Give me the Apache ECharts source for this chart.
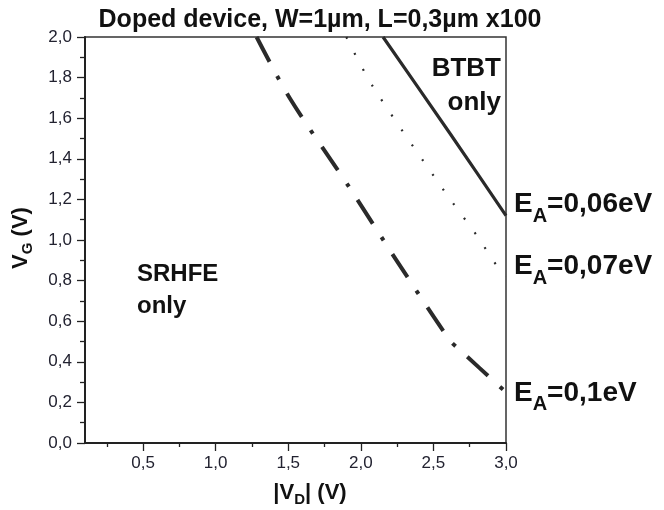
<!DOCTYPE html>
<html>
<head>
<meta charset="utf-8">
<script src="https://cdn.jsdelivr.net/npm/echarts@6/dist/echarts.min.js"></script>
<style>html,body{margin:0;padding:0;background:#fff}#c{width:664px;height:510px}</style>
</head>
<body>
<div id="c"></div>
<script>
const chartTitle = 'Doped device, W=1µm, L=0,3µm x100';
const xMajorTicks = [0.5, 1.0, 1.5, 2.0, 2.5, 3.0];
const xMinorTicks = [0.25, 0.75, 1.25, 1.75, 2.25, 2.75];
// E_A = 0,06 eV (solid)
const vd006 = [2.153, 2.612, 3.0];
const vg006 = [2.0, 1.527, 1.12];
// E_A = 0,07 eV (dotted)
const vd007 = [1.90, 2.084, 2.578, 2.796, 2.933, 3.0];
const vg007 = [2.0, 1.755, 1.238, 1.025, 0.877, 0.82];
// E_A = 0,1 eV (dash-dot)
const vd01 = [1.282, 1.511, 1.924, 2.24, 2.612, 2.68, 3.0];
const vg01 = [2.0, 1.698, 1.256, 0.906, 0.507, 0.46, 0.25];
const seriesNames = ['E_A=0,06eV', 'E_A=0,07eV', 'E_A=0,1eV'];
const labelSuffix = ['=0,06eV', '=0,07eV', '=0,1eV'];

const FONT = 'Liberation Sans, Arial, sans-serif';
const INK = '#222';
const comma = v => String(Number(v).toFixed(1)).replace('.', ',');
const zip = (a, b) => a.map((x, i) => [x, b[i]]);

const eaRich = {
  e: {fontSize: 28, fontWeight: 'bold', color: '#111', fontFamily: FONT, lineHeight: 32},
  s: {fontSize: 20, fontWeight: 'bold', color: '#111', fontFamily: FONT, padding: [23, 0, 0, 0]}
};
function endLbl(i, off) {
  return {show: true, formatter: '{e|E}{s|A}{e|' + labelSuffix[i] + '}', distance: 8, offset: off, rich: eaRich};
}

const chart = echarts.init(document.getElementById('c'));
chart.setOption({
  animation: false,
  backgroundColor: '#fff',
  title: {
    text: chartTitle, left: 315, top: 3, textAlign: 'center',
    textStyle: {fontFamily: FONT, fontSize: 25, fontWeight: 'bold', color: '#111'}
  },
  grid: {left: 85, right: 158, top: 37, bottom: 67, show: true, borderColor: '#333', borderWidth: 1.5, containLabel: false},
  xAxis: [{
    type: 'value', min: 0.1, max: 3.0, position: 'bottom',
    axisLine: {show: true, onZero: false, lineStyle: {color: INK, width: 2}},
    axisTick: {show: true, inside: false, length: 8, customValues: xMajorTicks, lineStyle: {color: INK, width: 1.3}},
    axisLabel: {show: true, customValues: xMajorTicks, formatter: comma, margin: 12, fontSize: 17, color: '#222230', fontFamily: FONT},
    splitLine: {show: false}
  }, {
    type: 'value', min: 0.1, max: 3.0, position: 'bottom', offset: 0,
    axisLine: {show: false},
    axisTick: {show: true, inside: false, length: 4, customValues: xMinorTicks, lineStyle: {color: INK, width: 1.3}},
    axisLabel: {show: false},
    splitLine: {show: false}
  }],
  yAxis: {
    type: 'value', min: 0, max: 2.0, interval: 0.2,
    axisLine: {show: true, onZero: false, lineStyle: {color: INK, width: 2}},
    axisTick: {show: true, inside: false, length: 8, lineStyle: {color: INK, width: 1.3}},
    minorTick: {show: true, splitNumber: 2, length: 5, lineStyle: {color: INK, width: 1.3}},
    axisLabel: {formatter: comma, margin: 13, fontSize: 17, color: '#222230', fontFamily: FONT},
    splitLine: {show: false}
  },
  series: [{
    name: seriesNames[0], type: 'line', data: zip(vd006, vg006), showSymbol: false, symbol: 'none', smooth: 0.2,
    lineStyle: {color: '#2a2a2a', width: 3.2, type: 'solid'},
    endLabel: endLbl(0, [0, -11])
  }, {
    name: seriesNames[1], type: 'line', data: zip(vd007, vg007), showSymbol: false, symbol: 'none', smooth: 0.3,
    lineStyle: {color: '#2a2a2a', width: 2.2, type: [2, 16]},
    endLabel: endLbl(1, [0, -10])
  }, {
    name: seriesNames[2], type: 'line', data: zip(vd01, vg01), showSymbol: false, symbol: 'none', smooth: 0.3,
    lineStyle: {color: '#2a2a2a', width: 4, type: [28, 16, 4, 16]},
    endLabel: endLbl(2, [0, 1])
  }],
  graphic: [{
    type: 'text', x: 137, y: 258,
    style: {text: 'SRHFE\nonly', fontFamily: FONT, fontSize: 24, fontWeight: 'bold', fill: '#111', lineHeight: 32, align: 'left', verticalAlign: 'top'}
  }, {
    type: 'text', x: 501, y: 52,
    style: {text: 'BTBT\nonly', fontFamily: FONT, fontSize: 26, fontWeight: 'bold', fill: '#111', lineHeight: 34, align: 'right', verticalAlign: 'top'}
  }, {
    type: 'text', x: 310, y: 493,
    style: {
      text: '{n||V}{s|D}{n|| (V)}', align: 'center', verticalAlign: 'middle',
      rich: {
        n: {fontFamily: FONT, fontSize: 22, fontWeight: 'bold', fill: '#111', lineHeight: 26},
        s: {fontFamily: FONT, fontSize: 15, fontWeight: 'bold', fill: '#111', padding: [14, 0, 0, 0]}
      }
    }
  }, {
    type: 'text', x: 21, y: 238, rotation: Math.PI / 2,
    style: {
      text: '{n|V}{s|G}{n| (V)}', align: 'center', verticalAlign: 'middle',
      rich: {
        n: {fontFamily: FONT, fontSize: 22, fontWeight: 'bold', fill: '#111', lineHeight: 26},
        s: {fontFamily: FONT, fontSize: 15, fontWeight: 'bold', fill: '#111', padding: [14, 0, 0, 0]}
      }
    }
  }]
});
</script>
</body>
</html>
